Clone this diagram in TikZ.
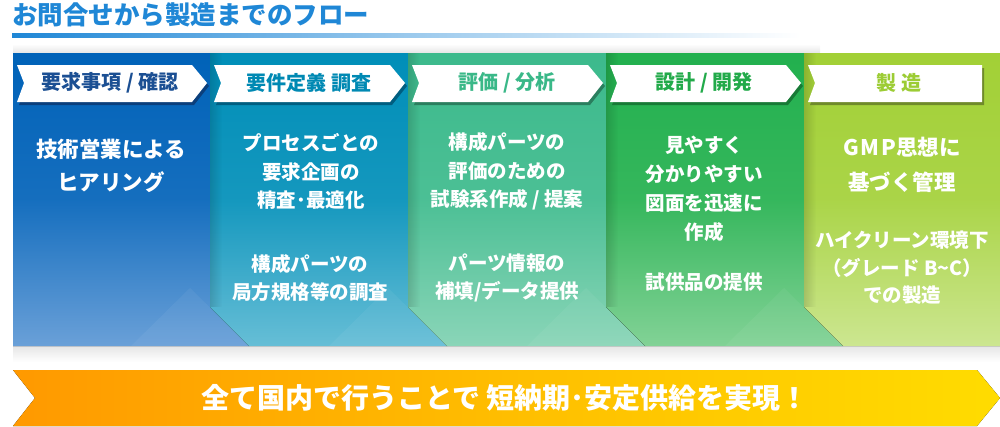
\documentclass[tikz,border=0pt]{standalone}
\usepackage{fontspec}
\setmainfont{Noto Sans CJK JP}
\usetikzlibrary{fadings}
\definecolor{ttlblue}{HTML}{1F87D6}
\definecolor{reqtop}{HTML}{0062B8}
\definecolor{reqbot}{HTML}{6AA0D8}
\definecolor{reqdark}{HTML}{0B3F7C}
\definecolor{reqtxt}{HTML}{1B4F93}
\definecolor{spectop}{HTML}{008EB8}
\definecolor{specbot}{HTML}{66BED6}
\definecolor{specdark}{HTML}{005E80}
\definecolor{spectxt}{HTML}{0089B3}
\definecolor{evaltop}{HTML}{3CBA8C}
\definecolor{evalbot}{HTML}{8AD5B8}
\definecolor{evaldark}{HTML}{2A7E5E}
\definecolor{evaltxt}{HTML}{3AB888}
\definecolor{dsgntop}{HTML}{22B04E}
\definecolor{dsgnbot}{HTML}{82D296}
\definecolor{dsgndark}{HTML}{187A36}
\definecolor{dsgntxt}{HTML}{22AA4A}
\definecolor{mfgtop}{HTML}{A2D036}
\definecolor{mfgbot}{HTML}{CCE690}
\definecolor{mfgdark}{HTML}{6F8A2A}
\definecolor{mfgtxt}{HTML}{9CCC34}
\definecolor{banora}{HTML}{FF9900}
\definecolor{banyel}{HTML}{FFDC00}
\tikzfading[name=fadeedge, left color=transparent!0, right color=transparent!100]

\begin{document}
\begin{tikzpicture}[x=1pt, y=-1pt,
    headtxt/.style={font=\fontsize{20}{24}\selectfont\bfseries, inner sep=0pt},
    bodytxt/.style={text=white, align=center, inner sep=0pt,
      font=\fontsize{19.5}{28.5}\selectfont\bfseries},
    bigtxt/.style={bodytxt, font=\fontsize{21.5}{33}\selectfont\bfseries},
    lighttri/.style={fill=white, fill opacity=0.05},
    edgeshade/.style={fill=black, fill opacity=0.14, path fading=fadeedge}
  ]
  \useasboundingbox (0,0) rectangle (1000,426);

  % title
  \node[anchor=west, inner sep=0pt, text=ttlblue,
    font=\fontsize{25.5}{30}\selectfont\bfseries] (title) at (12,15) {お問合せから製造までのフロー};
  \fill[left color=ttlblue, right color=white, middle color=ttlblue!45] (12,33) rectangle (800,37);

  % shadows round the columns
  \fill[top color=white, bottom color=black!10] (13,44) rectangle (820,53);
  \fill[top color=black!10, bottom color=white] (13,346) rectangle (1000,362);

  % columns
  \fill[top color=reqtop, bottom color=reqbot, middle color=reqtop!80!reqbot]
    (13,53) -- (210,53) -- (210,307) -- (249,346) -- (13,346) -- cycle;
  \fill[lighttri] (131,346) -- (190,288) -- (249,346) -- cycle;
  \fill[top color=spectop, bottom color=specbot, middle color=spectop!80!specbot]
    (210,53) -- (408,53) -- (408,307) -- (447,346) -- (249,346) -- (210,307) -- cycle;
  \fill[lighttri] (329,346) -- (388,288) -- (447,346) -- cycle;
  \fill[top color=evaltop, bottom color=evalbot, middle color=evaltop!80!evalbot]
    (408,53) -- (606,53) -- (606,307) -- (645,346) -- (447,346) -- (408,307) -- cycle;
  \fill[lighttri] (527,346) -- (586,288) -- (645,346) -- cycle;
  \fill[top color=dsgntop, bottom color=dsgnbot, middle color=dsgntop!80!dsgnbot]
    (606,53) -- (804,53) -- (804,307) -- (843,346) -- (645,346) -- (606,307) -- cycle;
  \fill[lighttri] (725,346) -- (784,288) -- (843,346) -- cycle;
  \fill[top color=mfgtop, bottom color=mfgbot, middle color=mfgtop!80!mfgbot]
    (804,53) -- (1000,53) -- (1000,346) -- (843,346) -- (804,307) -- cycle;
  \foreach \xa in {210,408,606,804}
    \fill[edgeshade] (\xa,53) rectangle (\xa+12,307);

  % header chevrons
  \foreach \xa/\xr/\xt/\cd in {13/192/207/reqdark, 210/390/405/specdark,
      408/588/603/evaldark, 606/786/801/dsgndark, 804/982/982/mfgdark}{
    \fill[\cd] (\xa+6,68) -- (\xr+2,68) -- (\xt+2,86) -- (\xr+2,105)
      -- (\xa+6,105) -- (\xa+13,86) -- cycle;
    \fill[white] (\xa+4,65) -- (\xr,65) -- (\xt,83) -- (\xr,102)
      -- (\xa+4,102) -- (\xa+11,83) -- cycle;
  }
  \node[headtxt, text=reqtxt]  (hreq)  at (110,83) {要求事項 / 確認};
  \node[headtxt, text=spectxt] (hspec) at (309,83) {要件定義 調査};
  \node[headtxt, text=evaltxt] (heval) at (507,83) {評価 / 分析};
  \node[headtxt, text=dsgntxt] (hdsgn) at (704,83) {設計 / 開発};
  \node[headtxt, text=mfgtxt]  (hmfg)  at (899,83) {製 造};

  % column texts
  \node[bigtxt] (reqa) at (111,166) {技術営業による\\ヒアリング};
  \node[bodytxt] (speca) at (311,171.5) {プロセスごとの\\要求企画の\\精査･最適化};
  \node[bodytxt] (specb) at (310,278) {構成パーツの\\局方規格等の調査};
  \node[bodytxt] (evala) at (507,171.5) {構成パーツの\\評価のための\\試験系作成 / 提案};
  \node[bodytxt] (evalb) at (507,278) {パーツ情報の\\補填/データ提供};
  \node[bodytxt, font=\fontsize{19.5}{29}\selectfont\bfseries] (dsgna) at (704,189) {見やすく\\分かりやすい\\図面を迅速に\\作成};
  \node[bodytxt] (dsgnb) at (704,282) {試供品の提供};
  \node[bigtxt, font=\fontsize{21.5}{35}\selectfont\bfseries] (mfga) at (902,164.5) {G\kern2pt M\kern2pt P思想に\\基づく管理};
  \node[bodytxt, font=\fontsize{19.5}{27.5}\selectfont\bfseries] (mfgb) at (902,268) {ハイクリーン環境下\\（グレード B\textasciitilde C）\\での製造};

  % bottom banner
  \fill[left color=banora, right color=banyel, middle color=banora!45!banyel]
    (13,370) -- (977,370) -- (1000,398) -- (977,426) -- (13,426) -- (35,398) -- cycle;
  \node[text=white, inner sep=0pt, font=\fontsize{28}{32}\selectfont\bfseries] (slogan) at (505,398)
    {全て国内で行うことで 短納期･安定供給を実現！};
\end{tikzpicture}
\end{document}
